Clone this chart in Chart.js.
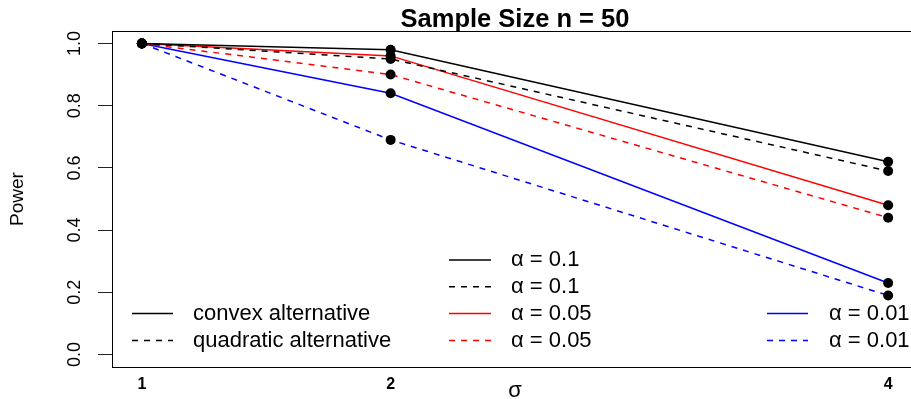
<!DOCTYPE html>
<html>
<head>
<meta charset="utf-8">
<script src="https://cdn.jsdelivr.net/npm/chart.js@4.4.0/dist/chart.umd.min.js"></script>
<style>
html, body { margin: 0; padding: 0; overflow: hidden; background: #fff; }
#wrap { position: relative; width: 930px; height: 399px; }
</style>
</head>
<body>
<div id="wrap"><canvas id="c"></canvas></div>
<script>
// ---- data ----
const sigma = [1, 2, 4];
const xTickLabels = ["1", "2", "4"];
const yTicks = [0.0, 0.2, 0.4, 0.6, 0.8, 1.0];
const yTickLabels = ["0.0", "0.2", "0.4", "0.6", "0.8", "1.0"];
const convex01  = [1.00, 0.98, 0.62];
const quad01    = [1.00, 0.95, 0.59];
const convex005 = [1.00, 0.96, 0.48];
const quad005   = [1.00, 0.90, 0.44];
const convex001 = [1.00, 0.84, 0.23];
const quad001   = [1.00, 0.69, 0.19];
const titleText = "Sample Size n = 50";
const xTitle = "σ";
const yTitle = "Power";
const typeLegend = ["convex alternative", "quadratic alternative"];
const alphaLegendMid = ["α = 0.1", "α = 0.1", "α = 0.05", "α = 0.05"];
const alphaLegendRight = ["α = 0.01", "α = 0.01"];

const FONT = "'Liberation Sans', Arial, Helvetica, sans-serif";
const DASH = [6, 6];

function mk(vals, color, dashed) {
  return {
    data: sigma.map((s, i) => ({ x: s, y: vals[i] })),
    borderColor: color,
    borderWidth: 1.5,
    borderDash: dashed ? DASH : [],
    pointRadius: 5,
    pointHoverRadius: 5,
    pointBackgroundColor: '#000',
    pointBorderColor: '#000',
    pointBorderWidth: 0,
    fill: false,
    tension: 0
  };
}

const datasets = [
  mk(convex01, '#000000', false),
  mk(quad01, '#000000', true),
  mk(convex005, '#FF0000', false),
  mk(quad005, '#FF0000', true),
  mk(convex001, '#0000FF', false),
  mk(quad001, '#0000FF', true)
];

const decor = {
  id: 'decor',
  afterDraw(chart) {
    const ctx = chart.ctx;
    const a = chart.chartArea;
    const ys = chart.scales.y;
    ctx.save();
    // box
    ctx.strokeStyle = '#000';
    ctx.lineWidth = 1;
    ctx.strokeRect(a.left + 0.5, a.top + 0.5, a.right - a.left, a.bottom - a.top);
    // title
    ctx.fillStyle = '#000';
    ctx.font = "bold 25.5px " + FONT;
    ctx.textAlign = 'center';
    ctx.textBaseline = 'alphabetic';
    ctx.fillText(titleText, (a.left + a.right) / 2, 27);
    // x title
    ctx.font = "22px " + FONT;
    ctx.fillText(xTitle, (a.left + a.right) / 2, 397);
    // y tick labels (rotated)
    ctx.font = "18px " + FONT;
    ctx.textBaseline = 'middle';
    yTicks.forEach((v, i) => {
      const py = ys.getPixelForValue(v);
      ctx.save();
      ctx.translate(75, py);
      ctx.rotate(-Math.PI / 2);
      ctx.fillText(yTickLabels[i], 0, 0);
      ctx.restore();
    });
    // y title
    ctx.save();
    ctx.font = "19px " + FONT;
    ctx.translate(18, (a.top + a.bottom) / 2);
    ctx.rotate(-Math.PI / 2);
    ctx.fillText(yTitle, 0, 0);
    ctx.restore();
    // legends
    function legendRow(x0, x1, tx, y, color, dashed, text) {
      ctx.beginPath();
      ctx.strokeStyle = color;
      ctx.lineWidth = 1.5;
      ctx.setLineDash(dashed ? DASH : []);
      ctx.moveTo(x0, y);
      ctx.lineTo(x1, y);
      ctx.stroke();
      ctx.setLineDash([]);
      ctx.fillStyle = '#000';
      ctx.font = "22px " + FONT;
      ctx.textAlign = 'left';
      ctx.textBaseline = 'middle';
      ctx.fillText(text, tx, y);
    }
    legendRow(132, 173, 193, 313.5, '#000', false, typeLegend[0]);
    legendRow(132, 173, 193, 340.5, '#000', true, typeLegend[1]);
    const midColors = ['#000', '#000', '#FF0000', '#FF0000'];
    const midY = [260, 286.7, 313.5, 340.5];
    alphaLegendMid.forEach((t, i) => legendRow(449, 491, 511, midY[i], midColors[i], i % 2 === 1, t));
    legendRow(767, 808, 829, 313.5, '#0000FF', false, alphaLegendRight[0]);
    legendRow(767, 808, 829, 340.5, '#0000FF', true, alphaLegendRight[1]);
    ctx.restore();
  }
};

new Chart(document.getElementById('c'), {
  type: 'line',
  data: { datasets },
  options: {
    responsive: true,
    maintainAspectRatio: false,
    animation: false,
    events: [],
    layout: { padding: { top: 31, right: 12, left: 0, bottom: 0 } },
    plugins: { legend: { display: false }, title: { display: false }, tooltip: { enabled: false } },
    scales: {
      x: {
        type: 'linear',
        min: 0.88, max: 4.12,
        afterBuildTicks: s => { s.ticks = sigma.map(v => ({ value: v })); },
        afterFit: s => { s.height = 32; },
        grid: { display: false, drawTicks: false },
        border: { display: false },
        ticks: {
          color: '#000',
          padding: 8,
          maxRotation: 0,
          autoSkip: false,
          font: { family: FONT, size: 16, weight: 'bold' },
          callback: (v) => { const i = sigma.indexOf(v); return i >= 0 ? xTickLabels[i] : ''; }
        }
      },
      y: {
        type: 'linear',
        min: -0.04, max: 1.04,
        afterBuildTicks: s => { s.ticks = yTicks.map(v => ({ value: v })); },
        afterFit: s => { s.width = 112; },
        grid: { drawOnChartArea: false, drawTicks: true, tickLength: 14, color: '#222', lineWidth: 1 },
        border: { display: false },
        ticks: { display: false }
      }
    }
  },
  plugins: [decor]
});
</script>
</body>
</html>
